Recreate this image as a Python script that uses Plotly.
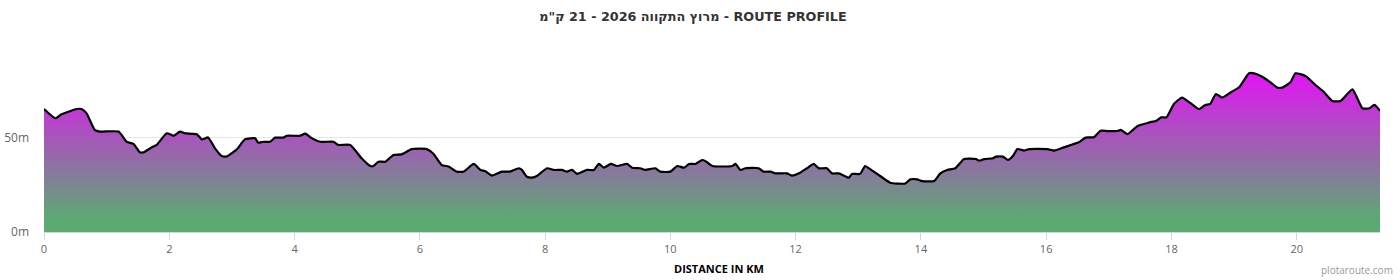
import plotly.graph_objects as go

distance_km = [0.00, 0.18, 0.28, 0.52, 0.60, 0.68, 0.81, 0.89, 1.19, 1.32, 1.43, 1.53, 1.59, 1.72, 1.80,
               1.96, 2.07, 2.17, 2.25, 2.44, 2.52, 2.62, 2.73, 2.84, 2.92, 3.08, 3.21, 3.37, 3.42, 3.50,
               3.61, 3.69, 3.82, 3.88, 4.09, 4.17, 4.28, 4.41, 4.62, 4.70, 4.89, 5.07, 5.21, 5.26, 5.34,
               5.45, 5.58, 5.71, 5.87, 6.11, 6.22, 6.35, 6.46, 6.59, 6.70, 6.86, 6.97, 7.04, 7.15, 7.31,
               7.44, 7.58, 7.63, 7.71, 7.79, 7.87, 8.03, 8.14, 8.27, 8.35, 8.43, 8.51, 8.67, 8.78, 8.86,
               8.94, 9.05, 9.15, 9.31, 9.39, 9.52, 9.60, 9.76, 9.84, 10.00, 10.11, 10.22, 10.30, 10.40,
               10.51, 10.56, 10.67, 10.99, 11.04, 11.12, 11.20, 11.41, 11.49, 11.60, 11.68, 11.86, 11.94,
               12.07, 12.18, 12.29, 12.37, 12.50, 12.58, 12.69, 12.85, 12.90, 13.03, 13.11, 13.19, 13.35,
               13.51, 13.75, 13.83, 13.94, 14.02, 14.21, 14.31, 14.42, 14.55, 14.69, 14.88, 14.93, 15.01,
               15.15, 15.20, 15.31, 15.39, 15.47, 15.54, 15.65, 15.73, 16.02, 16.13, 16.28, 16.52, 16.63,
               16.76, 16.87, 16.98, 17.14, 17.19, 17.30, 17.46, 17.65, 17.76, 17.84, 17.92, 18.04, 18.17,
               18.31, 18.44, 18.54, 18.62, 18.71, 18.81, 18.95, 19.08, 19.24, 19.32, 19.45, 19.58, 19.69,
               19.77, 19.90, 19.98, 20.14, 20.30, 20.43, 20.57, 20.70, 20.89, 21.05, 21.16, 21.24, 21.33]

elevation_m = [65.4, 60.5, 62.6, 65.4, 65.4, 63.1, 54.3, 53.4, 53.4, 48.0, 46.8, 42.4, 42.4, 45.0, 46.3,
               52.5, 51.2, 53.4, 52.5, 52.0, 49.3, 50.3, 44.5, 40.4, 40.2, 44.0, 49.3, 49.8, 47.5, 48.0,
               48.0, 50.2, 50.2, 51.2, 51.2, 52.3, 49.8, 48.0, 48.0, 46.3, 46.3, 39.2, 35.1, 35.1, 37.4,
               37.4, 41.0, 41.3, 44.1, 44.1, 41.5, 35.6, 34.8, 32.1, 32.1, 36.2, 33.0, 32.4, 30.0, 32.1,
               32.1, 33.9, 33.0, 29.4, 28.9, 29.8, 33.9, 33.0, 33.0, 32.1, 33.0, 30.9, 33.0, 33.0, 36.2,
               34.2, 36.2, 35.1, 36.2, 34.2, 33.9, 33.0, 33.9, 32.1, 32.1, 35.1, 34.2, 36.2, 36.2,
               38.3, 37.7, 35.1, 35.1, 36.2, 33.0, 33.9, 33.9, 32.1, 32.1, 31.2, 31.2, 30.0,
               31.5, 33.9, 36.2, 33.9, 33.9, 31.2, 31.2, 28.9, 30.9, 30.9, 35.1, 33.4, 29.8,
               26.2, 25.8, 28.0, 28.0, 27.1, 27.1, 31.2, 33.0, 33.9, 38.8, 38.8, 37.9, 38.8,
               39.2, 40.1, 40.1, 38.3, 40.4, 44.1, 43.3, 44.1, 44.1, 43.3, 45.0, 47.7, 50.2,
               50.4, 53.9, 53.7, 53.7, 54.3, 52.1, 56.4, 58.3, 59.2, 61.0, 61.0, 68.1, 71.5,
               68.4, 65.4, 67.6, 68.1, 73.4, 71.5, 74.3, 77.0, 84.4, 84.4, 82.6, 79.6, 76.8,
               76.8, 79.6, 84.4, 83.0, 78.2, 74.6, 69.7, 69.7, 75.9, 65.8, 65.8, 67.6, 64.5]

x_ticks = [0, 2, 4, 6, 8, 10, 12, 14, 16, 18, 20]
y_ticks = [0, 50]
y_tick_labels = ["0m", "50m"]

title_text = "מרוץ התקווה 2026 - 21 ק\"מ - ROUTE PROFILE"
x_title = "DISTANCE IN KM"
credit = "plotaroute.com"

fig = go.Figure()
fig.add_trace(go.Scatter(
    x=distance_km, y=elevation_m, mode="lines",
    line=dict(color="#000000", width=2.2, shape="spline", smoothing=0.5),
    fill="tozeroy",
    fillgradient=dict(type="vertical",
                      colorscale=[[0.0, "#5caa72"], [0.08, "#5caa72"], [1.0, "#e214f4"]],
                      start=0, stop=84.4),
    hoverinfo="skip", showlegend=False,
))

fig.update_layout(
    width=1400, height=280,
    margin=dict(l=44, r=20, t=50, b=48),
    paper_bgcolor="#ffffff", plot_bgcolor="#ffffff",
    title=dict(text=title_text, x=(540 + 846) / 2 / 1400, xanchor="center", y=1 - 17 / 280, yanchor="middle",
               font=dict(family="DejaVu Sans", size=12.75, color="#333333", weight="bold")),
    font=dict(family="Open Sans", color="#666666", size=11),
    xaxis=dict(range=[0, 21.33], tickvals=x_ticks, ticktext=[str(t) for t in x_ticks],
               showgrid=False, zeroline=False, showline=True, linecolor="#ccd6eb", linewidth=1,
               ticks="outside", ticklen=7, tickcolor="#ccd6eb", tickwidth=1, automargin=False,
               tickfont=dict(family="Open Sans", size=11, color="#666666")),
    yaxis=dict(range=[0, 96.8], tickvals=y_ticks, ticktext=y_tick_labels,
               showgrid=True, gridcolor="#e6e6e6", gridwidth=1, zeroline=False, showline=False,
               ticks="", ticklabelstandoff=14, automargin=False,
               tickfont=dict(family="Open Sans", size=12, color="#666666"),
               layer="below traces"),
    annotations=[
        dict(text="<b>" + x_title + "</b>", xref="paper", yref="paper", x=(719 - 44) / 1336, y=-36 / 182,
             xanchor="center", yanchor="middle", showarrow=False,
             font=dict(family="Open Sans", size=11, color="#000000")),
        dict(text=credit, xref="paper", yref="paper", x=(1395 - 44) / 1336, y=-38 / 182,
             xanchor="right", yanchor="middle", showarrow=False,
             font=dict(family="Open Sans", size=10, color="#999999")),
    ],
)

fig.write_html("out.html")
